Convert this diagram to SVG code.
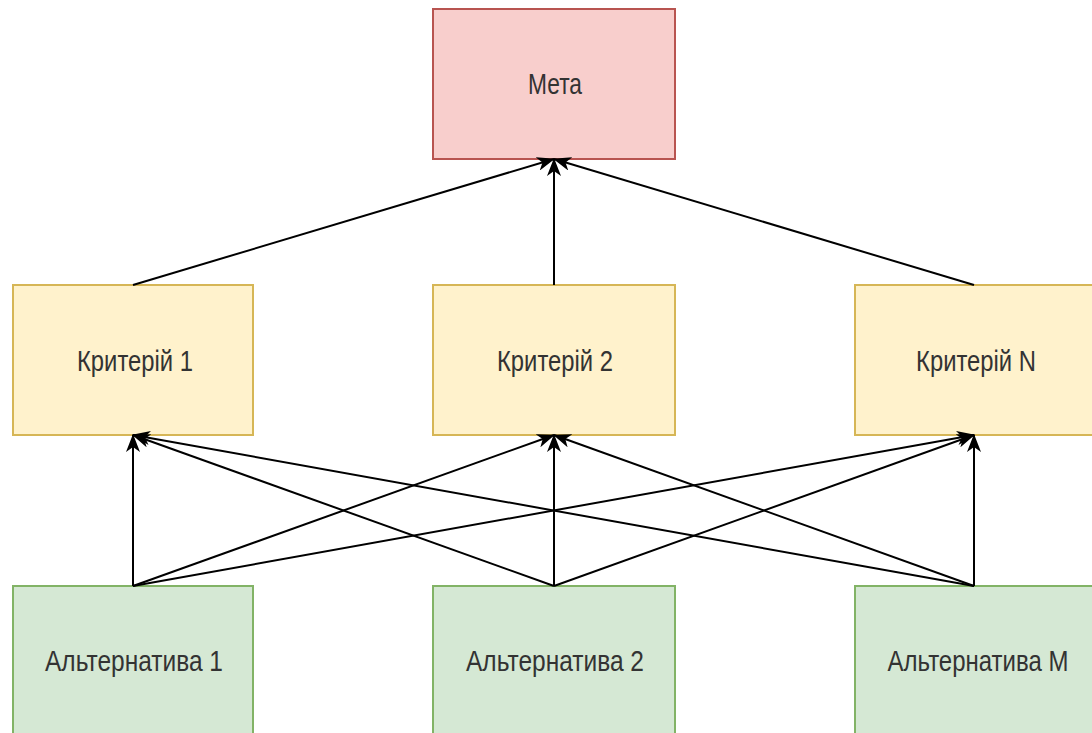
<svg xmlns="http://www.w3.org/2000/svg" width="1092" height="733" viewBox="0 0 1092 733">
<defs>
<style>
.goal{fill:#f8cecc;stroke:#b85450;stroke-width:2}
.crit{fill:#fff2cc;stroke:#d6b656;stroke-width:2}
.alt{fill:#d5e8d4;stroke:#82b366;stroke-width:2}
.lbl{font-family:"Liberation Sans",Arial,sans-serif;font-size:29px;fill:#333333;text-anchor:middle}
.edge{stroke:#000;stroke-width:2;fill:none;marker-end:url(#arr)}
</style>
<marker id="arr" viewBox="0 0 18 14" refX="17" refY="7" markerWidth="18" markerHeight="14" markerUnits="userSpaceOnUse" orient="auto">
<path d="M0,0 L18,7 L0,14 L5,7 z" fill="#000"/>
</marker>
</defs>
<rect width="1092" height="733" fill="#fff"/>
<g id="goal">
<rect class="goal" x="433" y="9" width="242" height="150"/>
<text class="lbl" x="555" y="94" textLength="54" lengthAdjust="spacingAndGlyphs">Мета</text>
</g>
<g id="crit1">
<rect class="crit" x="13" y="285" width="240" height="150"/>
<text class="lbl" x="135" y="371" textLength="116" lengthAdjust="spacingAndGlyphs">Критерій 1</text>
</g>
<g id="crit2">
<rect class="crit" x="433" y="285" width="242" height="150"/>
<text class="lbl" x="555" y="371" textLength="116" lengthAdjust="spacingAndGlyphs">Критерій 2</text>
</g>
<g id="critN">
<rect class="crit" x="855" y="285" width="240" height="150"/>
<text class="lbl" x="976" y="371" textLength="120" lengthAdjust="spacingAndGlyphs">Критерій N</text>
</g>
<g id="alt1">
<rect class="alt" x="13" y="586" width="240" height="150"/>
<text class="lbl" x="134" y="671" textLength="178" lengthAdjust="spacingAndGlyphs">Альтернатива 1</text>
</g>
<g id="alt2">
<rect class="alt" x="433" y="586" width="242" height="150"/>
<text class="lbl" x="555" y="671" textLength="178" lengthAdjust="spacingAndGlyphs">Альтернатива 2</text>
</g>
<g id="altM">
<rect class="alt" x="855" y="586" width="240" height="150"/>
<text class="lbl" x="978" y="671" textLength="181" lengthAdjust="spacingAndGlyphs">Альтернатива M</text>
</g>
<g id="connectors">
<line class="edge" x1="133" y1="285" x2="554" y2="159"/>
<line class="edge" x1="554" y1="285" x2="554" y2="159"/>
<line class="edge" x1="974" y1="285" x2="554" y2="159"/>
<line class="edge" x1="133" y1="586" x2="133" y2="435"/>
<line class="edge" x1="133" y1="586" x2="554" y2="435"/>
<line class="edge" x1="133" y1="586" x2="974" y2="435"/>
<line class="edge" x1="554" y1="586" x2="133" y2="435"/>
<line class="edge" x1="554" y1="586" x2="554" y2="435"/>
<line class="edge" x1="554" y1="586" x2="974" y2="435"/>
<line class="edge" x1="974" y1="586" x2="133" y2="435"/>
<line class="edge" x1="974" y1="586" x2="554" y2="435"/>
<line class="edge" x1="974" y1="586" x2="974" y2="435"/>
</g>
</svg>
